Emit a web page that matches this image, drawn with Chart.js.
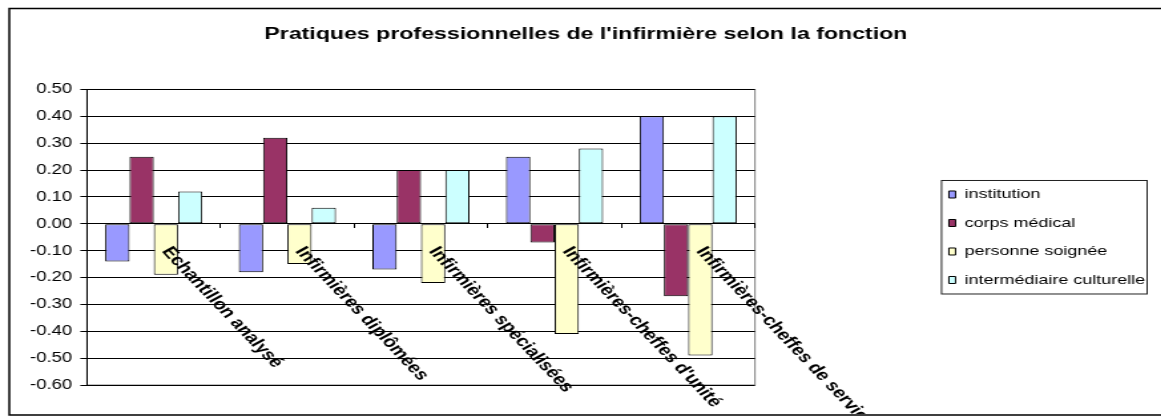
<!DOCTYPE html>
<html>
<head>
<meta charset="utf-8">
<script src="https://cdn.jsdelivr.net/npm/chart.js@4"></script>
<style>
  html, body { margin: 0; padding: 0; background: #fff; }
  #wrap { width: 1161px; height: 419px; overflow: hidden; }
  /* the source picture is stretched sideways, so the canvas is too */
  #chart { display: block; width: 873px; height: 419px; transform: scaleX(1.33); transform-origin: 0 0; }
</style>
</head>
<body>
<div id="wrap"><canvas id="chart" width="873" height="419"></canvas></div>
<script>
var categories = ["Echantillon analysé", "Infirmières diplômées", "Infirmières spécialisées", "Infirmières-cheffes d'unité", "Infirmières-cheffes de service"];
var seriesNames = ["institution", "corps médical", "personne soignée", "intermédiaire culturelle"];
var institution = [-0.14, -0.18, -0.17, 0.25, 0.40];
var corpsMedical = [0.25, 0.32, 0.20, -0.07, -0.27];
var personneSoignee = [-0.19, -0.15, -0.22, -0.41, -0.49];
var intermediaire = [0.12, 0.06, 0.20, 0.28, 0.40];
var barColors = ["#9999FF", "#993366", "#FFFFCC", "#CCFFFF"];
var yMin = -0.6, yMax = 0.5, yStep = 0.1;

Chart.defaults.font.family = "'Liberation Sans', Arial, sans-serif";
Chart.defaults.color = "#000";

var STRETCH = 1.33;
var LEGEND_GAP = 130.8;   // empty space between plot area and legend
var LEGEND_PAD = 15;
var LEGEND_FONT = 13.5;
var LEGEND_BOX = 5;

var decor = {
  id: "decor",
  beforeDraw: function (chart) {
    var ctx = chart.ctx, a = chart.chartArea;
    ctx.save();
    ctx.fillStyle = "#fff";
    ctx.fillRect(0, 0, chart.width, chart.height);
    // outer chart frame (right side is cut off in the source)
    ctx.strokeStyle = "#000";
    ctx.lineWidth = 1.5;
    ctx.beginPath();
    ctx.moveTo(chart.width + 2, 8.5);
    ctx.lineTo(7, 8.5);
    ctx.lineTo(7, 415);
    ctx.lineTo(chart.width + 2, 415);
    ctx.stroke();
    // plot area outline
    ctx.strokeStyle = "#808080";
    ctx.lineWidth = 1;
    ctx.strokeRect(a.left, a.top, a.right - a.left, a.bottom - a.top);
    ctx.restore();
  },
  afterLayout: function (chart) {
    // title is centred on the whole picture, not on the padded area
    var t = chart.titleBlock;
    t.left = 7;
    t.right = 874;
    // push the legend away from the plot area
    chart.legend.left += LEGEND_GAP;
    chart.legend.right += LEGEND_GAP;
  },
  afterDraw: function (chart) {
    var ctx = chart.ctx, lg = chart.legend;
    // legend frame
    ctx.save();
    ctx.font = LEGEND_FONT + "px 'Liberation Sans', Arial, sans-serif";
    var tw = Math.max.apply(null, seriesNames.map(function (s) { return ctx.measureText(s).width; }));
    var colH = lg.columnSizes[0].height;
    var y0 = (lg.top + LEGEND_PAD + lg.bottom - colH) / 2;
    var left = lg.left + LEGEND_PAD - 5.5;
    var right = lg.left + LEGEND_PAD + LEGEND_BOX + LEGEND_FONT / 2 + tw + 1.5;
    var top = y0 + LEGEND_FONT / 2 - 14;
    var bottom = y0 + 3 * (LEGEND_FONT + LEGEND_PAD) + LEGEND_FONT / 2 + 14;
    ctx.strokeStyle = "#222";
    ctx.lineWidth = 1;
    ctx.strokeRect(left, top, right - left, bottom - top);
    ctx.restore();

    // slanted category labels hanging from the zero line
    var xs = chart.scales.x, ys = chart.scales.y, yz = ys.getPixelForValue(0);
    ctx.save();
    ctx.beginPath();
    ctx.rect(0, 0, chart.width, 414);
    ctx.clip();
    ctx.font = "bold 15.5px 'Liberation Sans', Arial, sans-serif";
    ctx.fillStyle = "#000";
    ctx.textAlign = "left";
    ctx.textBaseline = "middle";
    categories.forEach(function (c, i) {
      ctx.save();
      ctx.translate(xs.getPixelForValue(i) + 9, yz + 25);
      ctx.rotate(Math.atan(STRETCH * 1.04));
      ctx.fillText(c, 0, 0);
      ctx.restore();
    });
    ctx.restore();
  }
};

var values = [institution, corpsMedical, personneSoignee, intermediaire];

var chartData = {
  labels: categories,
  datasets: seriesNames.map(function (name, i) {
    return {
      label: name,
      data: values[i],
      backgroundColor: barColors[i],
      borderColor: "#000",
      borderWidth: 1,
      borderSkipped: false,
      categoryPercentage: 0.727,
      barPercentage: 1.0
    };
  })
};

var ctx = document.getElementById("chart").getContext("2d");
var myChart = new Chart(ctx, {
  type: "bar",
  data: chartData,
  plugins: [decor],
  options: {
    responsive: false,
    animation: false,
    devicePixelRatio: 1,
    layout: { padding: { left: 10, right: 2 + LEGEND_GAP, top: 8, bottom: 34 } },
    plugins: {
      tooltip: { enabled: false },
      title: {
        display: true,
        text: "Pratiques professionnelles de l'infirmière selon la fonction",
        font: { size: 17.4, weight: "bold" },
        color: "#000",
        padding: { top: 15.3, bottom: 45.3 }
      },
      legend: {
        position: "right",
        fullSize: false,
        labels: {
          boxWidth: LEGEND_BOX,
          boxHeight: 7,
          padding: LEGEND_PAD,
          font: { size: LEGEND_FONT },
          color: "#000"
        }
      }
    },
    scales: {
      x: {
        position: { y: 0 },
        ticks: { display: false },
        grid: { display: true, drawOnChartArea: false, drawTicks: true, tickLength: 4, color: "#000", offset: true },
        border: { display: true, color: "#000" }
      },
      y: {
        min: yMin,
        max: yMax,
        ticks: {
          stepSize: yStep,
          padding: 6,
          font: { size: 14 },
          color: "#000",
          callback: function (v) { return v.toFixed(2); }
        },
        grid: { color: "#000", tickLength: 5 },
        border: { display: true, color: "#000" },
        afterFit: function (s) { s.width = 55.4; }
      }
    }
  }
});
</script>
</body>
</html>
